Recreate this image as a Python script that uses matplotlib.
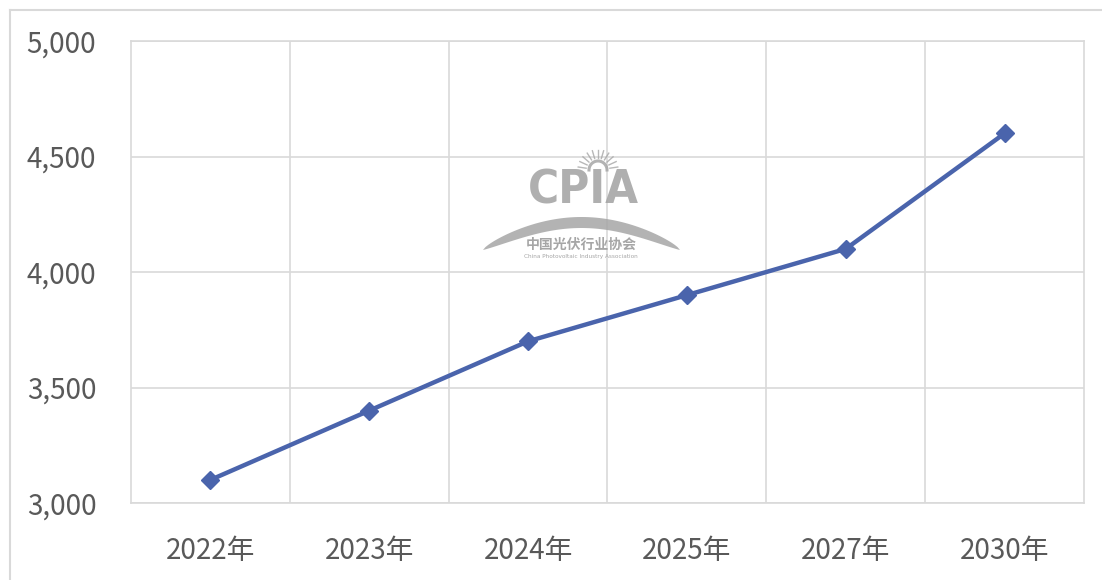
import numpy as np
import matplotlib.pyplot as plt
from matplotlib.patches import Polygon
from matplotlib.lines import Line2D

# ============================================================================
# DATOS
# ============================================================================
years = ["2022年", "2023年", "2024年", "2025年", "2027年", "2030年"]
values = [3100, 3400, 3700, 3900, 4100, 4600]
y_ticks = [3000, 3500, 4000, 4500, 5000]

plt.rcParams['font.family'] = ['Noto Sans CJK SC', 'DejaVu Sans']

W, H = 1102, 580
GRID = '#D9D9D9'
TXT = '#595959'
LINE = '#4A64AC'
WM = '#A6A6A6'

fig = plt.figure(figsize=(W / 100, H / 100), dpi=100)
fig.patch.set_facecolor('white')


def fx(px):
    return px / W


def fy(py):
    return 1 - py / H


# marco exterior (solo borde superior e izquierdo visibles)
fig.add_artist(Line2D([fx(10), fx(10)], [fy(10), 0], color=GRID, lw=1.5))
fig.add_artist(Line2D([fx(10), 1], [fy(10), fy(10)], color=GRID, lw=1.5))

ax = fig.add_axes([fx(131), fy(503), fx(1084) - fx(131), fy(41) - fy(503)])
x = np.arange(len(years))

ax.set_xlim(-0.5, len(years) - 0.5)
ax.set_ylim(3000, 5000)
ax.set_yticks(y_ticks)
ax.set_yticklabels([f"{v:,}" for v in y_ticks])
ax.set_xticks(x)
ax.set_xticklabels(years)
ax.set_xticks(np.arange(0.5, len(years) - 0.5, 1), minor=True)

ax.grid(True, axis='y', color=GRID, lw=1.2, zorder=0)
ax.grid(True, axis='x', which='minor', color=GRID, lw=1.2, zorder=0)
ax.grid(False, axis='x', which='major')
for s in ax.spines.values():
    s.set_color(GRID)
    s.set_linewidth(1.2)
ax.tick_params(axis='both', which='both', length=0, labelsize=20, labelcolor=TXT)
ax.tick_params(axis='y', pad=25)
ax.tick_params(axis='x', pad=24)

ax.plot(x, values, color=LINE, lw=3.2, marker='D', markersize=9,
        markerfacecolor=LINE, markeredgecolor=LINE, zorder=4)

# ----------------------------------------------------------------------------
# Marca de agua CPIA
# ----------------------------------------------------------------------------
fig.text(fx(583), fy(191), "CPIA", ha='center', va='center', fontsize=34,
         fontweight='bold', family='DejaVu Sans', fontstretch='condensed',
         color=WM, alpha=0.9, zorder=5)

# arco
t = np.linspace(0, 1, 80)
xs = 483 + (680 - 483) * t
top = 250 - 33 * np.sin(np.pi * t) ** 0.75
bot = 250 - 22 * np.sin(np.pi * t) ** 1.1
pts = np.concatenate([np.column_stack([xs, top]), np.column_stack([xs[::-1], bot[::-1]])])
fig.add_artist(Polygon(np.column_stack([fx(pts[:, 0]), fy(pts[:, 1])]),
                       closed=True, transform=fig.transFigure,
                       facecolor=WM, edgecolor='none', alpha=0.85, zorder=5))

# sol con rayos
cx, cy = 598, 170
ang = np.linspace(0, np.pi, 40)
r = 9
fig.add_artist(Line2D(fx(cx + r * np.cos(ang)), fy(cy - r * np.sin(ang)),
                      color=WM, lw=2.2, alpha=0.85, zorder=5))
for a in np.linspace(0.15, np.pi - 0.15, 11):
    fig.add_artist(Line2D([fx(cx + 12 * np.cos(a)), fx(cx + 20 * np.cos(a))],
                          [fy(cy - 12 * np.sin(a)), fy(cy - 20 * np.sin(a))],
                          color=WM, lw=1.0, alpha=0.8, zorder=5))

fig.text(fx(581), fy(245), "中国光伏行业协会", ha='center', va='center',
         fontsize=10, fontweight='bold', color=WM, zorder=5)
fig.text(fx(581), fy(257), "China Photovoltaic Industry Association", ha='center',
         va='center', fontsize=4.6, family='DejaVu Sans', fontstretch='condensed',
         color=WM, zorder=5)

fig.savefig("out.png", dpi=100, facecolor='white')
